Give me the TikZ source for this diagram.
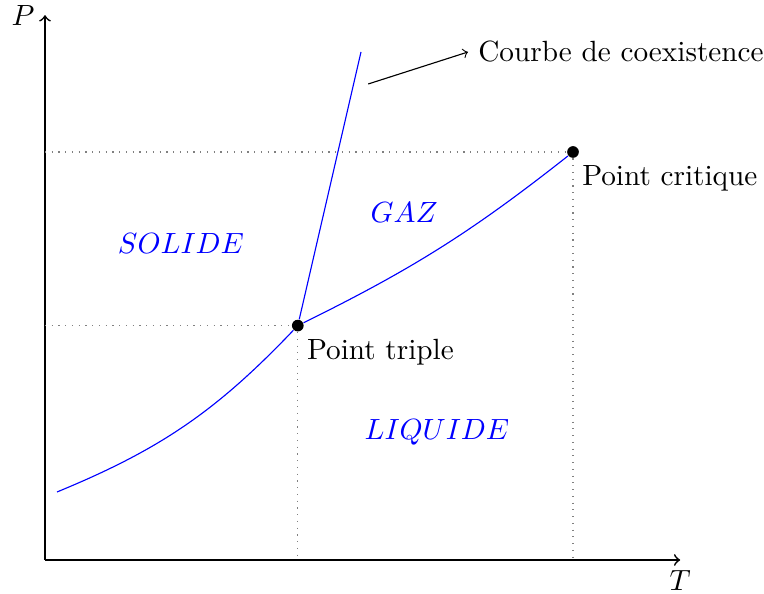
\documentclass[tikz,border=0pt]{standalone}
\usetikzlibrary{positioning}
\begin{document}
\begin{tikzpicture}[every node/.append style={scale=1.04}]
  \tikzset{phase/.style={blue}, guide/.style={dotted,gray}, pt/.style={circle,fill=black,inner sep=0pt,minimum size=4pt}}
  \useasboundingbox (-0.5625,-0.425) rectangle (8.9875,7.0);
  % Axes
  \coordinate (O) at (0,0);
  \coordinate (Ptop) at (0,6.81);
  \coordinate (Tend) at (7.94,0);
  \draw[->,semithick] (O) -- (Ptop) node[left] {$P$};
  \draw[->,semithick] (O) -- (Tend) node[below] {$T$};
  % Special points
  \node[pt] (triple) at (3.16,2.93) {};
  \node[pt] (critique) at (6.6,5.1) {};
  \node[below right=-0.5pt and -2pt of triple] (ltriple) {Point triple};
  \node[below right=-0.5pt and -2pt of critique] (lcritique) {Point critique};
  % Guide lines
  \coordinate (ta) at (0,2.93);
  \coordinate (tb) at (3.16,0);
  \coordinate (ca) at (0,5.1);
  \coordinate (cb) at (6.6,0);
  \draw[guide] (ta) -- (triple) -- (tb);
  \draw[guide] (ca) -- (critique) -- (cb);
  % Coexistence curves
  \coordinate (start) at (0.15,0.85);
  \coordinate (top) at (3.95,6.35);
  \draw[phase] (start) to[bend right=12] (triple);
  \draw[phase] (triple) to[bend right=6] (critique);
  \draw[phase] (triple) -- (top);
  % Label with arrow
  \coordinate (fa) at (4.04,5.95);
  \node (courbe) at (7.2,6.35) {Courbe de coexistence};
  \draw[->] (fa) -- (courbe.west);
  % Phases
  \node[phase] (solide) at (1.7,3.96) {$SOLIDE$};
  \node[phase] (gaz) at (4.49,4.34) {$GAZ$};
  \node[phase] (liquide) at (4.9,1.6) {$LIQUIDE$};
\end{tikzpicture}
\end{document}
